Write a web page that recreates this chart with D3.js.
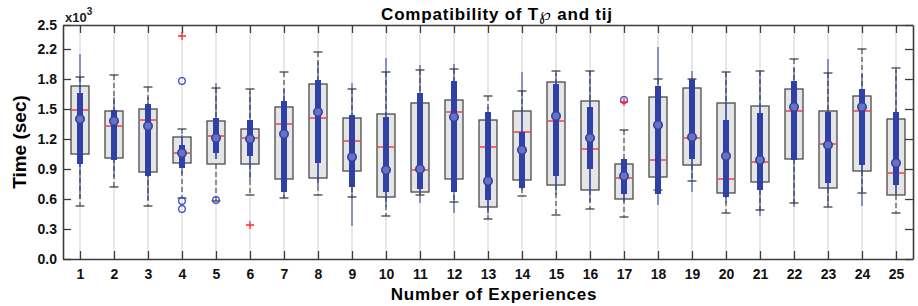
<!doctype html>
<html>
<head>
<meta charset="utf-8">
<script src="https://d3js.org/d3.v7.min.js"></script>
<style>
    body { margin: 0; background: #fff; }
    text { font-family: Arial, "Liberation Sans", sans-serif; }
</style>
</head>
<body>
<svg id="chart" width="918" height="306"></svg>
<script>
    // values are in units of 10^3 sec, as drawn on the axis
    var experiences = d3.range(1, 26).map(String);

    // gray MATLAB boxes
    var whiskHigh = [1.82,1.84,1.72,1.30,1.71,1.70,1.87,2.07,1.70,1.87,1.89,1.90,1.63,1.68,1.88,1.88,1.29,1.80,1.80,1.87,1.88,2.00,1.86,2.10,1.91];
    var boxQ3     = [1.73,1.48,1.50,1.22,1.38,1.30,1.52,1.75,1.41,1.45,1.56,1.59,1.39,1.48,1.77,1.58,0.95,1.62,1.71,1.56,1.53,1.70,1.48,1.63,1.40];
    var boxMedian = [1.49,1.33,1.39,1.06,1.23,1.21,1.35,1.41,1.18,1.12,0.89,1.47,1.12,1.27,1.38,1.10,0.81,0.99,1.21,0.80,0.97,1.48,1.15,1.48,0.86];
    var boxQ1     = [1.05,1.01,0.87,0.96,0.95,0.95,0.80,0.81,0.88,0.62,0.67,0.80,0.52,0.79,0.74,0.69,0.60,0.82,0.94,0.66,0.77,1.00,0.71,0.88,0.64];
    var whiskLow  = [0.53,0.72,0.53,0.61,0.58,0.64,0.61,0.64,0.62,0.43,0.64,0.57,0.40,0.63,0.44,0.50,0.42,0.69,0.78,0.46,0.49,0.56,0.52,0.66,0.46];
    var redOutliers = [["4", 2.23], ["6", 0.34], ["17", 1.57]];

    // blue overlay boxes
    var blueHigh = [2.05,1.62,1.62,1.24,1.76,1.67,1.70,1.97,1.76,2.01,1.94,1.95,1.52,1.87,1.86,1.88,1.00,2.12,1.88,1.86,1.88,1.91,2.00,1.85,1.89];
    var blueQ3   = [1.66,1.49,1.55,1.14,1.41,1.39,1.58,1.79,1.44,1.42,1.66,1.78,1.47,1.27,1.75,1.52,1.00,1.73,1.80,1.39,1.46,1.78,1.47,1.70,1.47];
    var blueMid  = [1.40,1.38,1.33,1.06,1.21,1.20,1.25,1.47,1.02,0.89,0.90,1.42,0.78,1.09,1.43,1.21,0.83,1.34,1.22,1.03,0.99,1.52,1.14,1.52,0.96];
    var blueQ1   = [0.95,0.99,0.83,0.91,1.06,1.03,0.67,0.96,0.72,0.67,0.70,0.67,0.59,0.71,0.83,0.90,0.65,0.65,1.00,0.62,0.69,0.99,0.76,0.94,0.74];
    var blueLow  = [0.60,0.82,0.59,0.85,1.00,0.79,0.62,0.73,0.33,0.52,0.56,0.46,0.45,0.69,0.64,0.57,0.57,0.54,0.67,0.56,0.43,0.52,0.54,0.53,0.64];
    var blueOutliers = [["4", 1.78], ["4", 0.58], ["4", 0.50], ["5", 0.59], ["17", 1.59]];

    var yTickValues = [0, 0.3, 0.6, 0.9, 1.2, 1.5, 1.8, 2.1, 2.34];
    var yTickLabels = ["0.0", "0.3", "0.6", "0.9", "1.2", "1.5", "1.8", "2.2", "2.5"];

    var svg = d3.select("#chart"),
        mLeft = 63, mRight = 913, mTop = 25, mBottom = 259;

    var x = d3.scalePoint().domain(experiences).range([mLeft, mRight]).padding(0.5),
        y = d3.scaleLinear().domain([0, 2.34]).range([mBottom, mTop]);

    var rows = experiences.map(function(c, i) {
        return { c: c, wh: whiskHigh[i], q3: boxQ3[i], med: boxMedian[i], q1: boxQ1[i], wl: whiskLow[i],
                 bh: blueHigh[i], b3: blueQ3[i], bm: blueMid[i], b1: blueQ1[i], bl: blueLow[i] };
    });

    var boxW = 18, capW = 9, blue = "#2f41a6";

    // vertical grid
    svg.append("g").selectAll("line").data(experiences).enter().append("line")
       .attr("x1", function(d) { return x(d); }).attr("x2", function(d) { return x(d); })
       .attr("y1", mTop).attr("y2", mBottom)
       .attr("stroke", "#e8e8e8").attr("stroke-width", 2);

    var g = svg.append("g");

    // blue thin whiskers (underneath)
    g.selectAll(".bthin").data(rows).enter().append("line")
     .attr("x1", function(d) { return x(d.c); }).attr("x2", function(d) { return x(d.c); })
     .attr("y1", function(d) { return y(d.bh); }).attr("y2", function(d) { return y(d.bl); })
     .attr("stroke", blue).attr("stroke-opacity", 0.65).attr("stroke-width", 1.6);

    // black dashed whiskers
    g.selectAll(".wup").data(rows).enter().append("line")
     .attr("x1", function(d) { return x(d.c); }).attr("x2", function(d) { return x(d.c); })
     .attr("y1", function(d) { return y(d.wh); }).attr("y2", function(d) { return y(d.q3); })
     .attr("stroke", "#333").attr("stroke-width", 1).attr("stroke-dasharray", "5,3");
    g.selectAll(".wdn").data(rows).enter().append("line")
     .attr("x1", function(d) { return x(d.c); }).attr("x2", function(d) { return x(d.c); })
     .attr("y1", function(d) { return y(d.q1); }).attr("y2", function(d) { return y(d.wl); })
     .attr("stroke", "#333").attr("stroke-width", 1).attr("stroke-dasharray", "5,3");

    // caps
    ["wh", "wl"].forEach(function(k) {
        g.selectAll(".cap-" + k).data(rows).enter().append("line")
         .attr("x1", function(d) { return x(d.c) - capW / 2; }).attr("x2", function(d) { return x(d.c) + capW / 2; })
         .attr("y1", function(d) { return y(d[k]); }).attr("y2", function(d) { return y(d[k]); })
         .attr("stroke", "#333").attr("stroke-width", 1.2);
    });

    // boxes
    g.selectAll(".box").data(rows).enter().append("rect")
     .attr("x", function(d) { return x(d.c) - boxW / 2; })
     .attr("y", function(d) { return y(d.q3); })
     .attr("width", boxW)
     .attr("height", function(d) { return y(d.q1) - y(d.q3); })
     .attr("fill", "#e5e5e5").attr("stroke", "#4a4a4a").attr("stroke-width", 1.3);

    // medians
    g.selectAll(".med").data(rows).enter().append("line")
     .attr("x1", function(d) { return x(d.c) - boxW / 2 + 1; }).attr("x2", function(d) { return x(d.c) + boxW / 2 - 1; })
     .attr("y1", function(d) { return y(d.med); }).attr("y2", function(d) { return y(d.med); })
     .attr("stroke", "#ff3b3b").attr("stroke-width", 1.5);

    // blue thin line through the box area, then thick IQR
    g.selectAll(".bthin2").data(rows).enter().append("line")
     .attr("x1", function(d) { return x(d.c); }).attr("x2", function(d) { return x(d.c); })
     .attr("y1", function(d) { return y(Math.min(d.bh, d.q3)); }).attr("y2", function(d) { return y(Math.max(d.bl, d.q1)); })
     .attr("stroke", blue).attr("stroke-width", 1.6);
    g.selectAll(".bthick").data(rows).enter().append("line")
     .attr("x1", function(d) { return x(d.c); }).attr("x2", function(d) { return x(d.c); })
     .attr("y1", function(d) { return y(d.b3); }).attr("y2", function(d) { return y(d.b1); })
     .attr("stroke", blue).attr("stroke-width", 6);
    g.selectAll(".bmid").data(rows).enter().append("circle")
     .attr("cx", function(d) { return x(d.c); }).attr("cy", function(d) { return y(d.bm); })
     .attr("r", 4.2).attr("fill", "#6772c2").attr("stroke", blue).attr("stroke-width", 1.6);

    // outliers
    g.selectAll(".bout").data(blueOutliers).enter().append("circle")
     .attr("cx", function(d) { return x(d[0]); }).attr("cy", function(d) { return y(d[1]); })
     .attr("r", 3.3).attr("fill", "none").attr("stroke", "#3a4cc0").attr("stroke-width", 1.3);
    g.selectAll(".rout").data(redOutliers).enter().append("path")
     .attr("d", function(d) {
         var cx = x(d[0]), cy = y(d[1]);
         return "M" + (cx - 4) + "," + cy + "H" + (cx + 4) + "M" + cx + "," + (cy - 4) + "V" + (cy + 4);
     })
     .attr("stroke", "#ff2a2a").attr("stroke-width", 1.3);

    // axes (MATLAB box style, inward ticks)
    function styleAxis(sel) {
        sel.select(".domain").attr("stroke", "#3c3c3c").attr("stroke-width", 1.6);
        sel.selectAll(".tick line").attr("stroke", "#3c3c3c").attr("stroke-width", 1.3);
        sel.selectAll("text").attr("font-size", "14px").attr("font-weight", "bold").attr("fill", "#111")
           .attr("font-family", "Arial, 'Liberation Sans', sans-serif");
    }
    svg.append("g").attr("transform", "translate(0," + mBottom + ")")
       .call(d3.axisBottom(x).tickSizeInner(-8).tickSizeOuter(0).tickPadding(10))
       .call(styleAxis);
    svg.append("g").attr("transform", "translate(0," + mTop + ")")
       .call(d3.axisTop(x).tickSizeInner(-8).tickSizeOuter(0).tickFormat(""))
       .call(styleAxis);
    svg.append("g").attr("transform", "translate(" + mLeft + ",0)")
       .call(d3.axisLeft(y).tickValues(yTickValues).tickSizeInner(-8).tickSizeOuter(0).tickPadding(6)
             .tickFormat(function(d, i) { return yTickLabels[i]; }))
       .call(styleAxis);
    svg.append("g").attr("transform", "translate(" + mRight + ",0)")
       .call(d3.axisRight(y).tickValues(yTickValues).tickSizeInner(-8).tickSizeOuter(0).tickFormat(""))
       .call(styleAxis);

    // labels
    var mult = svg.append("text").attr("x", 65).attr("y", 22)
                  .attr("font-size", "13px").attr("font-weight", "bold").attr("fill", "#222");
    mult.append("tspan").text("x10");
    mult.append("tspan").attr("dy", -7).attr("font-size", "10px").text("3");

    var title = svg.append("text").attr("x", (mLeft + mRight) / 2 + 9).attr("y", 20)
       .attr("text-anchor", "middle").attr("font-size", "17px").attr("font-weight", "bold")
       .attr("letter-spacing", "0.8px");
    title.append("tspan").text("Compatibility of T");
    title.append("tspan").attr("font-family", "'DejaVu Sans', sans-serif").attr("font-weight", "normal").text("\u2118");
    title.append("tspan").text(" and tij");

    svg.append("text").attr("x", (mLeft + mRight) / 2 + 6).attr("y", 300)
       .attr("text-anchor", "middle").attr("font-size", "17px").attr("font-weight", "bold")
       .attr("letter-spacing", "0.8px")
       .text("Number of Experiences");

    svg.append("text").attr("transform", "translate(26," + ((mTop + mBottom) / 2) + ") rotate(-90)")
       .attr("text-anchor", "middle").attr("font-size", "19px").attr("font-weight", "bold")
       .text("Time (sec)");
</script>
</body>
</html>
